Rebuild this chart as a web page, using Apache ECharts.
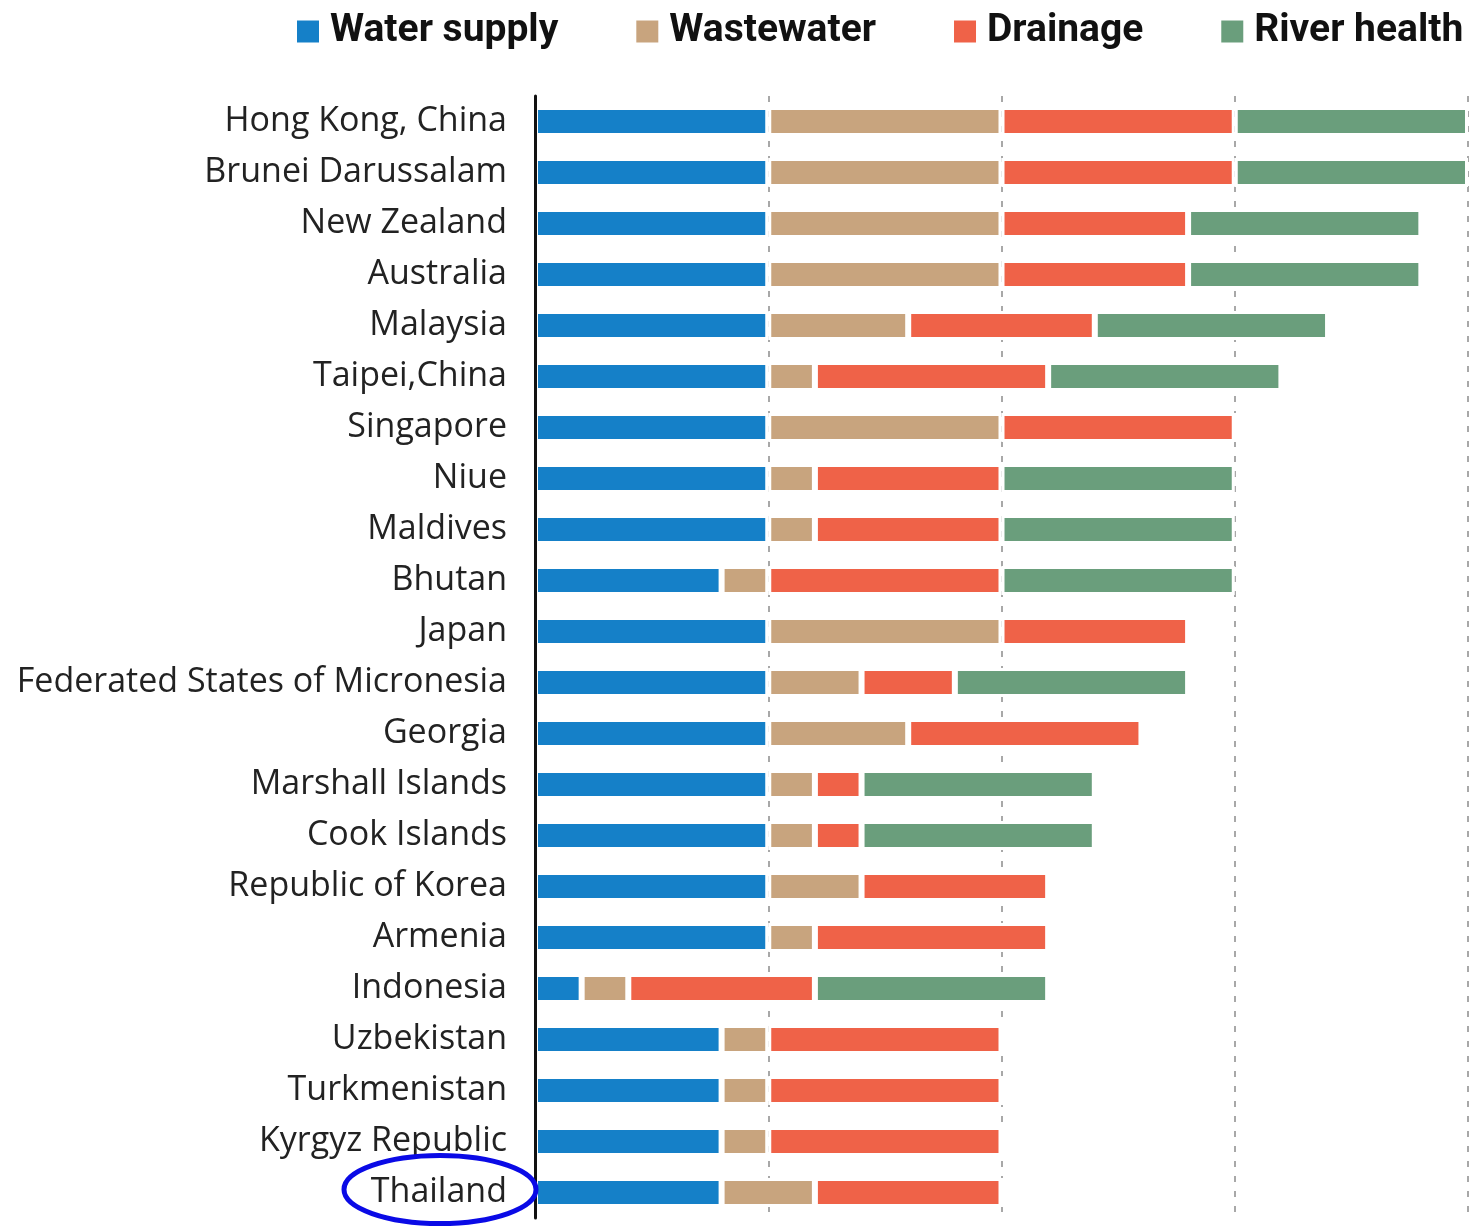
<!DOCTYPE html>
<html>
<head>
<meta charset="utf-8">
<style>html,body{margin:0;padding:0;background:#fff;}#main{width:1476px;height:1226px;}</style>
<script src="https://cdn.jsdelivr.net/npm/echarts@6/dist/echarts.min.js"></script>
</head>
<body>
<div id="main"></div>
<script>
const categories = ["Hong Kong, China","Brunei Darussalam","New Zealand","Australia","Malaysia","Taipei,China","Singapore","Niue","Maldives","Bhutan","Japan","Federated States of Micronesia","Georgia","Marshall Islands","Cook Islands","Republic of Korea","Armenia","Indonesia","Uzbekistan","Turkmenistan","Kyrgyz Republic","Thailand"];
const waterSupply = [5,5,5,5,5,5,5,5,5,4,5,5,5,5,5,5,5,1,4,4,4,4];
const wastewater  = [5,5,5,5,3,1,5,1,1,1,5,2,3,1,1,2,1,1,1,1,1,2];
const drainage    = [5,5,4,4,4,5,5,4,4,5,4,2,5,1,1,4,5,4,5,5,5,4];
const riverHealth = [5,5,5,5,5,5,0,5,5,5,0,5,0,5,5,0,0,5,0,0,0,0];
const seriesNames = ["Water supply","Wastewater","Drainage","River health"];
const colors = ["#1580c8","#c8a47e","#ef6248","#6a9e7c"];
const xTicks = [0,5,10,15,20];

const chart = echarts.init(document.getElementById('main'));
const dataSets = [waterSupply, wastewater, drainage, riverHealth];
chart.setOption({
  animation: false,
  color: colors,
  legend: {
    top: 12, left: 295, width: 1181, padding: 0,
    itemWidth: 24, itemHeight: 24, itemGap: 76,
    icon: 'rect',
    textStyle: {fontFamily: 'Roboto', fontWeight: 'bold', fontSize: 39, color: '#111', padding: [0,0,0,5]},
    data: seriesNames
  },
  grid: {left: 535, right: 8, top: 96, bottom: 8},
  xAxis: {
    type: 'value', min: xTicks[0], max: xTicks[xTicks.length-1], interval: 5,
    axisLabel: {show: false}, axisLine: {show: false}, axisTick: {show: false},
    splitLine: {show: true, lineStyle: {color: '#a8a8a8', width: 2, type: [6,9]}}
  },
  yAxis: {
    type: 'category', inverse: true, data: categories, z: 10,
    axisLine: {show: true, lineStyle: {color: '#111', width: 3}},
    axisTick: {show: false},
    axisLabel: {fontFamily: 'Open Sans', fontSize: 34, color: '#222', margin: 28}
  },
  series: seriesNames.map((n, i) => ({
    name: n, type: 'bar', stack: 'total', barWidth: 29,
    itemStyle: {color: colors[i], borderColor: '#fff', borderWidth: 3},
    data: dataSets[i]
  }))
});
const yThai = chart.convertToPixel({yAxisIndex: 0}, 'Thailand');
chart.setOption({
  graphic: [{
    type: 'ellipse', shape: {cx: 440, cy: yThai - 3, rx: 96, ry: 34},
    style: {fill: 'none', stroke: '#0a0ae6', lineWidth: 5}, z: 100
  }]
});
</script>
</body>
</html>
